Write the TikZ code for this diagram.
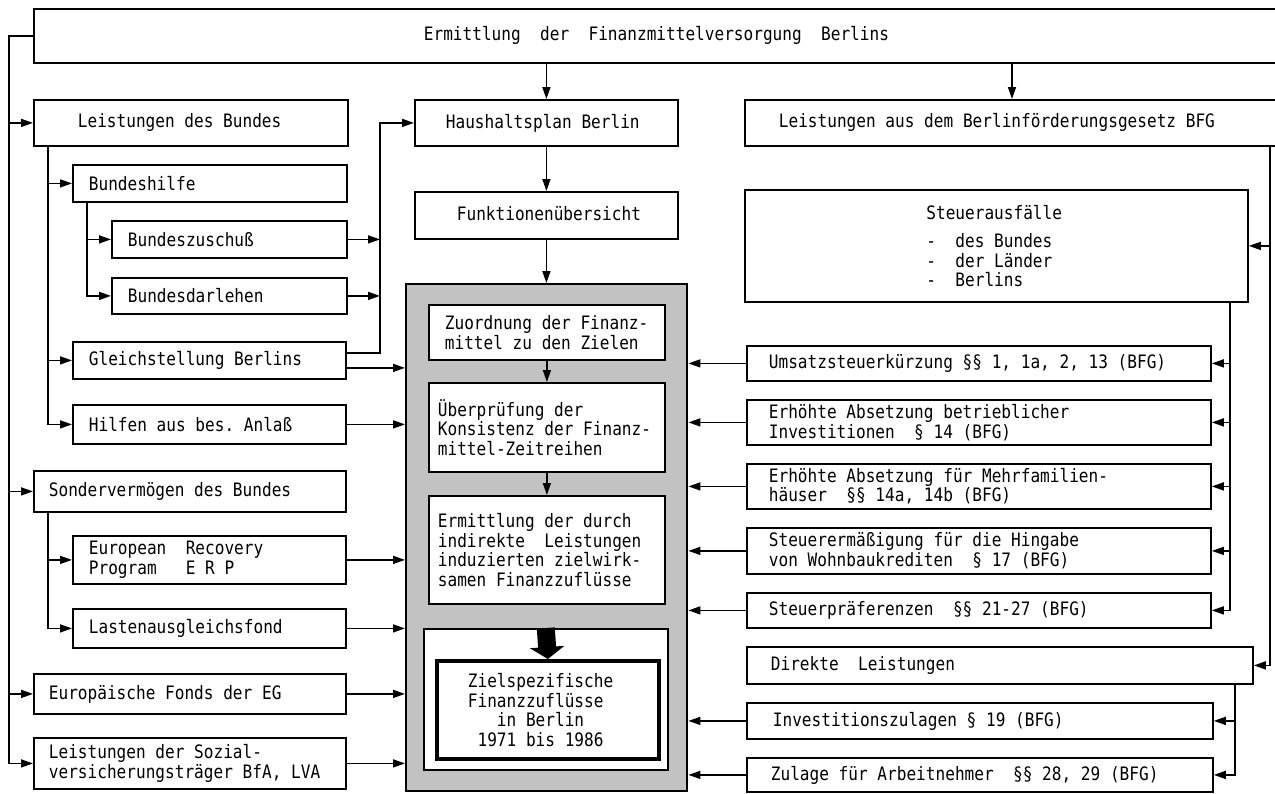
\documentclass[tikz,border=0pt]{standalone}
\usepackage{fontspec}
\newfontfamily\mono[FakeStretch=0.87]{DejaVu Sans Mono}
\newcommand\monosize{\mono\fontsize{18.5}{19.5}\selectfont\spaceskip=9.69pt\relax\xspaceskip=9.69pt\relax}
\usetikzlibrary{arrows.meta,calc}
\begin{document}
\begin{tikzpicture}[x=1pt,y=-1pt,
  bx/.style={draw, line width=1.8pt, fill=white, anchor=north west, align=left,
    inner ysep=0pt, font=\monosize,
    execute at begin node={\spaceskip=9.69pt\relax\xspaceskip=9.69pt\relax}},
  ar/.style={line width=1.5pt, -{Triangle[length=12pt,width=8pt]}},
  ln/.style={line width=1.5pt}]
\useasboundingbox (0,0) rectangle (1275,793);
\fill[white] (0,0) rectangle (1275,793);
\clip (0,0) rectangle (1275,793);

% top
\node[bx, minimum height=54pt, text width=877pt, inner xsep=390pt] (top) at (33,8) {Ermittlung~~der~~Finanzmittelversorgung~~Berlins};

% left column
\node[bx, minimum height=46pt, text width=226pt, inner xsep=44pt] (ldb) at (33,99) {Leistungen des Bundes};
\node[bx, minimum height=37pt, text width=242pt, inner xsep=16pt] (bh) at (72,164) {Bundeshilfe};
\node[bx, minimum height=37pt, text width=203pt, inner xsep=16pt] (bz) at (111,220) {Bundeszuschuß};
\node[bx, minimum height=36pt, text width=203pt, inner xsep=16pt] (bd) at (111,277) {Bundesdarlehen};
\node[bx, minimum height=37pt, text width=241pt, inner xsep=16pt] (gb) at (72,341) {Gleichstellung Berlins};
\node[bx, minimum height=39pt, text width=241pt, inner xsep=16pt] (hb) at (72,404) {Hilfen aus bes. Anlaß};
\node[bx, minimum height=41pt, text width=282pt, inner xsep=15pt] (sv) at (33,470) {Sondervermögen des Bundes};
\node[bx, minimum height=48pt, text width=241pt, inner xsep=16pt] (erp) at (72,535) {European~~Recovery\\Program~~~E R P};
\node[bx, minimum height=39pt, text width=241pt, inner xsep=16pt] (la) at (72,608) {Lastenausgleichsfond};
\node[bx, minimum height=40pt, text width=282pt, inner xsep=15pt] (eg) at (33,673) {Europäische Fonds der EG};
\node[bx, minimum height=51pt, text width=282pt, inner xsep=15pt] (sz) at (33,737) {Leistungen der Sozial-\\versicherungsträger BfA, LVA};

% centre column
\node[bx, minimum height=46pt, text width=201pt, inner xsep=31pt] (hp) at (414,99) {Haushaltsplan Berlin};
\node[bx, minimum height=47pt, text width=201pt, inner xsep=31pt] (fu) at (414,191) {\hspace*{11pt}\raisebox{4pt}{Funktionenübersicht}};
\node[draw, line width=2.4pt, fill=black!24, anchor=north west, minimum width=281pt, minimum height=507pt, inner sep=0pt] (shade) at (405,283) {};
\node[bx, minimum height=55pt, text width=204pt, inner xsep=16pt] (zu) at (428,304) {Zuordnung der Finanz-\\mittel zu den Zielen};
\node[bx, minimum height=89pt, text width=218pt, inner xsep=9pt] (ue) at (428,382) {Überprüfung der\\Konsistenz der Finanz-\\mittel-Zeitreihen};
\node[bx, minimum height=108pt, text width=218pt, inner xsep=9pt] (er) at (428,495) {Ermittlung der durch\\indirekte~~Leistungen\\induzierten zielwirk-\\samen Finanzzuflüsse};
\node[draw, line width=1.6pt, fill=white, anchor=north west, minimum width=244pt, minimum height=141pt, inner sep=0pt] (zo) at (423,628) {};
\node[bx, line width=3.8pt, minimum height=98pt, text width=160pt, inner xsep=31pt] (zi) at (435,659) {Zielspezifische\\Finanzzuflüsse\\~~~in Berlin\\~1971 bis 1986};

% right column
\node[bx, minimum height=46pt, text width=488pt, inner xsep=34pt] (bfg) at (744,99) {Leistungen aus dem Berlinförderungsgesetz BFG};
\node[bx, minimum height=112pt, text width=140pt, inner xsep=181.5pt] (sa) at (744,189) {Steuerausfälle\\[9pt]-~~des Bundes\\-~~der Länder\\-~~Berlins};
\node[bx, minimum height=35pt, text width=420pt, inner xsep=22pt] (us) at (746,345) {Umsatzsteuerkürzung §§ 1, 1a, 2, 13 (BFG)};
\node[bx, minimum height=45pt, text width=420pt, inner xsep=22pt] (eb) at (746,399) {Erhöhte Absetzung betrieblicher\\Investitionen~~§ 14 (BFG)};
\node[bx, minimum height=45pt, text width=420pt, inner xsep=22pt] (em) at (746,463) {Erhöhte Absetzung für Mehrfamilien-\\häuser~~§§ 14a, 14b (BFG)};
\node[bx, minimum height=46pt, text width=420pt, inner xsep=22pt] (st) at (746,527) {Steuerermäßigung für die Hingabe\\von Wohnbaukrediten~~§ 17 (BFG)};
\node[bx, minimum height=35pt, text width=420pt, inner xsep=22pt] (sp) at (746,592) {Steuerpräferenzen~~§§ 21-27 (BFG)};
\node[bx, minimum height=37pt, text width=458pt, inner xsep=24pt] (dl) at (746,646) {Direkte~~Leistungen};
\node[bx, minimum height=36pt, text width=414pt, inner xsep=26pt] (iz) at (746,702) {Investitionszulagen § 19 (BFG)};
\node[bx, minimum height=34pt, text width=418pt, inner xsep=24pt] (za) at (746,757) {Zulage für Arbeitnehmer~~§§ 28, 29 (BFG)};

% helper x positions
\coordinate (lx) at (9,0);
\coordinate (b1) at (48,0);
\coordinate (b2) at (87,0);
\coordinate (c1) at (380,0);
\coordinate (t2) at (1012,0);
\coordinate (r1) at (1270,0);
\coordinate (r2) at (1230,0);
\coordinate (r3) at (1235,0);

% left feedback line
\draw[ar] (top.west) -| (lx |- sz.west) -- (sz.west);
\draw[ar] (lx |- ldb.west) -- (ldb.west);
\draw[ar] (lx |- sv.west) -- (sv.west);
\draw[ar] (lx |- eg.west) -- (eg.west);

% Leistungen des Bundes branch
\draw[ar] (ldb.south -| b1) |- (hb.west);
\draw[ar] (b1 |- bh.west) -- (bh.west);
\draw[ar] (b1 |- gb.west) -- (gb.west);
% Bundeshilfe branch
\draw[ar] (bh.south -| b2) |- (bd.west);
\draw[ar] (b2 |- bz.west) -- (bz.west);
% Sondervermoegen branch
\draw[ar] (sv.south -| b1) |- (la.west);
\draw[ar] (b1 |- erp.west) -- (erp.west);

% collector to Haushaltsplan
\draw[ar] ($(gb.east)+(0,-7.5)$) -| (c1 |- hp.west) -- (hp.west);
\draw[ar] (bz.east) -- (c1 |- bz.east);
\draw[ar] (bd.east) -- (c1 |- bd.east);

% left inputs into shaded box
\draw[ar] ($(gb.east)+(0,7.5)$) coordinate (g2) -- (g2 -| shade.west);
\draw[ar] (hb.east) -- (hb.east -| shade.west);
\draw[ar] (erp.east) -- (erp.east -| shade.west);
\draw[ar] (la.east) -- (la.east -| shade.west);
\draw[ar] (eg.east) -- (eg.east -| shade.west);
\draw[ar] (sz.east) -- (sz.east -| shade.west);

% centre flow
\draw[ar] (top.south -| hp.north) -- (hp.north);
\draw[ar] (hp.south) -- (fu.north);
\draw[ar] (fu.south) -- (fu.south |- shade.north);
\draw[ar] (zu.south) -- (ue.north);
\draw[ar] (ue.south) -- (er.north);
\draw[line width=18pt, -{Triangle[length=12pt,width=34pt]}] (zo.north) -- (zi.north);

% right side
\draw[ar] (top.south -| t2) -- (bfg.north -| t2);
\draw[ar] (bfg.south -| r1) |- (dl.east);
\draw[ar] (r1 |- sa.east) -- (sa.east);
\draw[ar] (sa.south -| r2) |- (sp.east);
\draw[ar] (r2 |- us.east) -- (us.east);
\draw[ar] (r2 |- eb.east) -- (eb.east);
\draw[ar] (r2 |- em.east) -- (em.east);
\draw[ar] (r2 |- st.east) -- (st.east);
\draw[ar] (dl.south -| r3) |- (za.east);
\draw[ar] (r3 |- iz.east) -- (iz.east);

% right inputs into shaded box
\draw[ar] (us.west) -- (us.west -| shade.east);
\draw[ar] (eb.west) -- (eb.west -| shade.east);
\draw[ar] (em.west) -- (em.west -| shade.east);
\draw[ar] (st.west) -- (st.west -| shade.east);
\draw[ar] (sp.west) -- (sp.west -| shade.east);
\draw[ar] (iz.west) -- (iz.west -| shade.east);
\draw[ar] (za.west) -- (za.west -| shade.east);
\end{tikzpicture}
\end{document}
